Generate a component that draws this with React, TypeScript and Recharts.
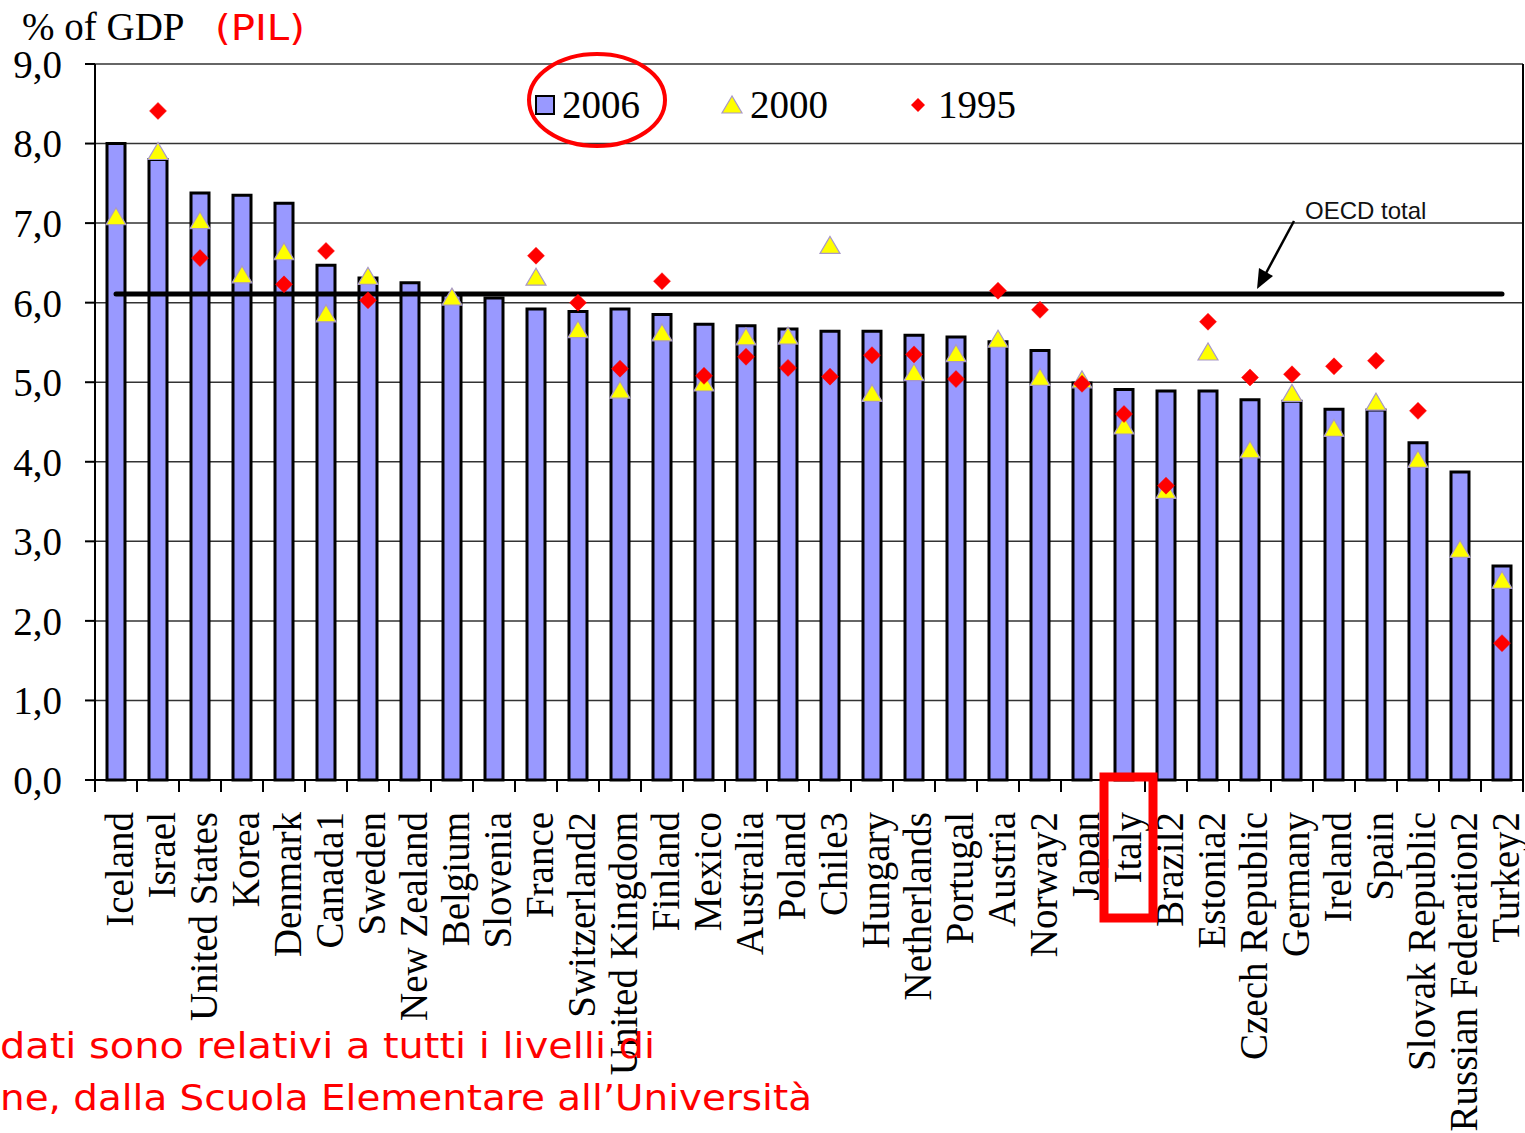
import React from 'react';
import { ComposedChart, Bar, Line, XAxis, YAxis, CartesianGrid, ReferenceLine } from 'recharts';

const countries = [
  'Iceland', 'Israel', 'United States', 'Korea', 'Denmark', 'Canada1', 'Sweden', 'New Zealand',
  'Belgium', 'Slovenia', 'France', 'Switzerland2', 'United Kingdom', 'Finland', 'Mexico', 'Australia',
  'Poland', 'Chile3', 'Hungary', 'Netherlands', 'Portugal', 'Austria', 'Norway2', 'Japan', 'Italy',
  'Brazil2', 'Estonia2', 'Czech Republic', 'Germany', 'Ireland', 'Spain', 'Slovak Republic',
  'Russian Federation2', 'Turkey2',
];

const values2006 = [
  8.0, 7.8, 7.38, 7.35, 7.25, 6.47, 6.31, 6.25, 6.1, 6.06, 5.92, 5.89, 5.92, 5.85, 5.73, 5.71,
  5.67, 5.64, 5.64, 5.59, 5.57, 5.51, 5.4, 4.99, 4.91, 4.89, 4.89, 4.78, 4.76, 4.66, 4.65, 4.24,
  3.87, 2.69,
];

const values2000 = [
  7.08, 7.9, 7.03, 6.35, 6.64, 5.86, 6.33, null, 6.07, null, 6.32, 5.66, 4.9, 5.62, 4.99, 5.57,
  5.58, 6.72, 4.86, 5.12, 5.36, 5.54, 5.06, 5.03, 4.45, 3.64, 5.38, 4.15, 4.86, 4.42, 4.75, 4.03,
  2.9, 2.51,
];

const values1995 = [
  null, 8.41, 6.56, null, 6.23, 6.65, 6.03, null, null, null, 6.59, 6.0, 5.17, 6.27, 5.08, 5.32,
  5.18, 5.07, 5.34, 5.35, 5.04, 6.15, 5.91, 4.98, 4.6, 3.7, 5.76, 5.06, 5.1, 5.2, 5.27, 4.64,
  null, 1.72,
];

const oecdTotal = 6.11;
const yTicks = [0, 1, 2, 3, 4, 5, 6, 7, 8, 9];

const data = countries.map((c, i) => ({
  country: c,
  v2006: values2006[i],
  v2000: values2000[i],
  v1995: values1995[i],
}));

const W = 1525;
const H = 1133;
const LEFT = 95;
const PLOT_W = W - LEFT - 2;
const BAND = PLOT_W / countries.length;
const SERIF = '"Liberation Serif", "Times New Roman", serif';

const Triangle = (props: any) => {
  const { cx, cy, value } = props;
  if (value == null || cx == null || cy == null || isNaN(cy)) return null;
  return (
    <polygon
      points={`${cx},${cy - 9} ${cx - 10},${cy + 8} ${cx + 10},${cy + 8}`}
      fill="#ffff00"
      stroke="#a898c8"
      strokeWidth={1.2}
    />
  );
};

const Diamond = (props: any) => {
  const { cx, cy, value } = props;
  if (value == null || cx == null || cy == null || isNaN(cy)) return null;
  return (
    <polygon
      points={`${cx},${cy - 8.5} ${cx + 8.5},${cy} ${cx},${cy + 8.5} ${cx - 8.5},${cy}`}
      fill="#ff0000"
      stroke="#ff0000"
      strokeWidth={0.5}
    />
  );
};

const XTick = (props: any) => {
  const { x, y, payload, index } = props;
  const half = BAND / 2;
  return (
    <g>
      <line x1={x - half} y1={y} x2={x - half} y2={y + 12} stroke="#000" strokeWidth={2} />
      {index === countries.length - 1 && (
        <line x1={x + half} y1={y} x2={x + half} y2={y + 12} stroke="#000" strokeWidth={2} />
      )}
      <text
        x={0}
        y={0}
        transform={`translate(${x + 17}, ${y + 32}) rotate(-90)`}
        textAnchor="end"
        fontFamily={SERIF}
        fontSize={39}
        fill="#000"
      >
        {payload.value}
      </text>
    </g>
  );
};

const fmt = (v: number) => v.toFixed(1).replace('.', ',');

export default function App() {
  return (
    <div style={{ position: 'absolute', left: 0, top: 0, width: W, height: H, background: '#fff' }}>
      <ComposedChart
        width={W}
        height={H}
        data={data}
        margin={{ top: 64, right: 0, bottom: 0, left: 0 }}
      >
        <CartesianGrid yAxisId="left" vertical={false} stroke="#333" strokeWidth={1.5} />
        <XAxis
          dataKey="country"
          interval={0}
          height={353}
          tickSize={0}
          tickMargin={0}
          tickLine={false}
          axisLine={{ stroke: '#000', strokeWidth: 2 }}
          tick={<XTick />}
        />
        <YAxis
          yAxisId="left"
          width={95}
          domain={[0, 9]}
          ticks={yTicks}
          interval={0}
          tickFormatter={fmt}
          tickSize={10}
          tickMargin={23}
          tickLine={{ stroke: '#000', strokeWidth: 2 }}
          axisLine={{ stroke: '#000', strokeWidth: 2 }}
          tick={{ fontSize: 39, fontFamily: SERIF, fill: '#000' }}
        />
        <YAxis
          yAxisId="right"
          orientation="right"
          width={2}
          domain={[0, 9]}
          tick={false}
          tickLine={false}
          axisLine={{ stroke: '#000', strokeWidth: 2 }}
        />
        <Bar
          yAxisId="left"
          dataKey="v2006"
          barSize={18}
          fill="#9999ff"
          stroke="#000"
          strokeWidth={3}
          isAnimationActive={false}
        />
        <ReferenceLine
          yAxisId="left"
          segment={[
            { x: countries[0], y: oecdTotal },
            { x: countries[countries.length - 1], y: oecdTotal },
          ]}
          stroke="#000"
          strokeWidth={5}
          strokeLinecap="round"
        />
        <Line
          yAxisId="left"
          dataKey="v2000"
          stroke="none"
          dot={<Triangle />}
          activeDot={false}
          isAnimationActive={false}
        />
        <Line
          yAxisId="left"
          dataKey="v1995"
          stroke="none"
          dot={<Diamond />}
          activeDot={false}
          isAnimationActive={false}
        />
      </ComposedChart>
      <svg
        width={W}
        height={H}
        style={{ position: 'absolute', left: 0, top: 0, pointerEvents: 'none' }}
      >
        <text x={22} y={40} fontFamily={SERIF} fontSize={39} fill="#000">% of GDP</text>
        <text x={215} y={40} fontFamily='"DejaVu Sans", sans-serif' fontSize={36} fill="#ff0000" textLength={90} lengthAdjust="spacingAndGlyphs">(PIL)</text>

        {/* legend */}
        <rect x={536} y={96} width={18} height={18} fill="#9999ff" stroke="#000" strokeWidth={2} />
        <text x={562} y={118} fontFamily={SERIF} fontSize={39} fill="#000">2006</text>
        <polygon points="732,96 722,113 742,113" fill="#ffff00" stroke="#a898c8" strokeWidth={1.2} />
        <text x={750} y={118} fontFamily={SERIF} fontSize={39} fill="#000">2000</text>
        <polygon points="918,98 925,105 918,112 911,105" fill="#ff0000" />
        <text x={938} y={118} fontFamily={SERIF} fontSize={39} fill="#000">1995</text>
        <ellipse cx={597} cy={100} rx={68} ry={46} fill="none" stroke="#ff0000" strokeWidth={4} />

        {/* OECD annotation */}
        <text x={1305} y={219} fontFamily='"Liberation Sans", Arial, sans-serif' fontSize={24} fill="#111">OECD total</text>
        <line x1={1294} y1={221} x2={1265} y2={275} stroke="#000" strokeWidth={2.5} />
        <polygon points="1257,289 1259,268 1273,276" fill="#000" />

        {/* Italy highlight */}
        <rect x={1104} y={777} width={49} height={141} fill="none" stroke="#ff0000" strokeWidth={9} />

        {/* footnote */}
        <text x={0} y={1058} fontFamily='"DejaVu Sans", sans-serif' fontSize={36} fill="#ff0000" textLength={655} lengthAdjust="spacingAndGlyphs">dati sono relativi a tutti i livelli di</text>
        <text x={0} y={1110} fontFamily='"DejaVu Sans", sans-serif' fontSize={36} fill="#ff0000" textLength={812} lengthAdjust="spacingAndGlyphs">ne, dalla Scuola Elementare all’Università</text>
      </svg>
    </div>
  );
}
